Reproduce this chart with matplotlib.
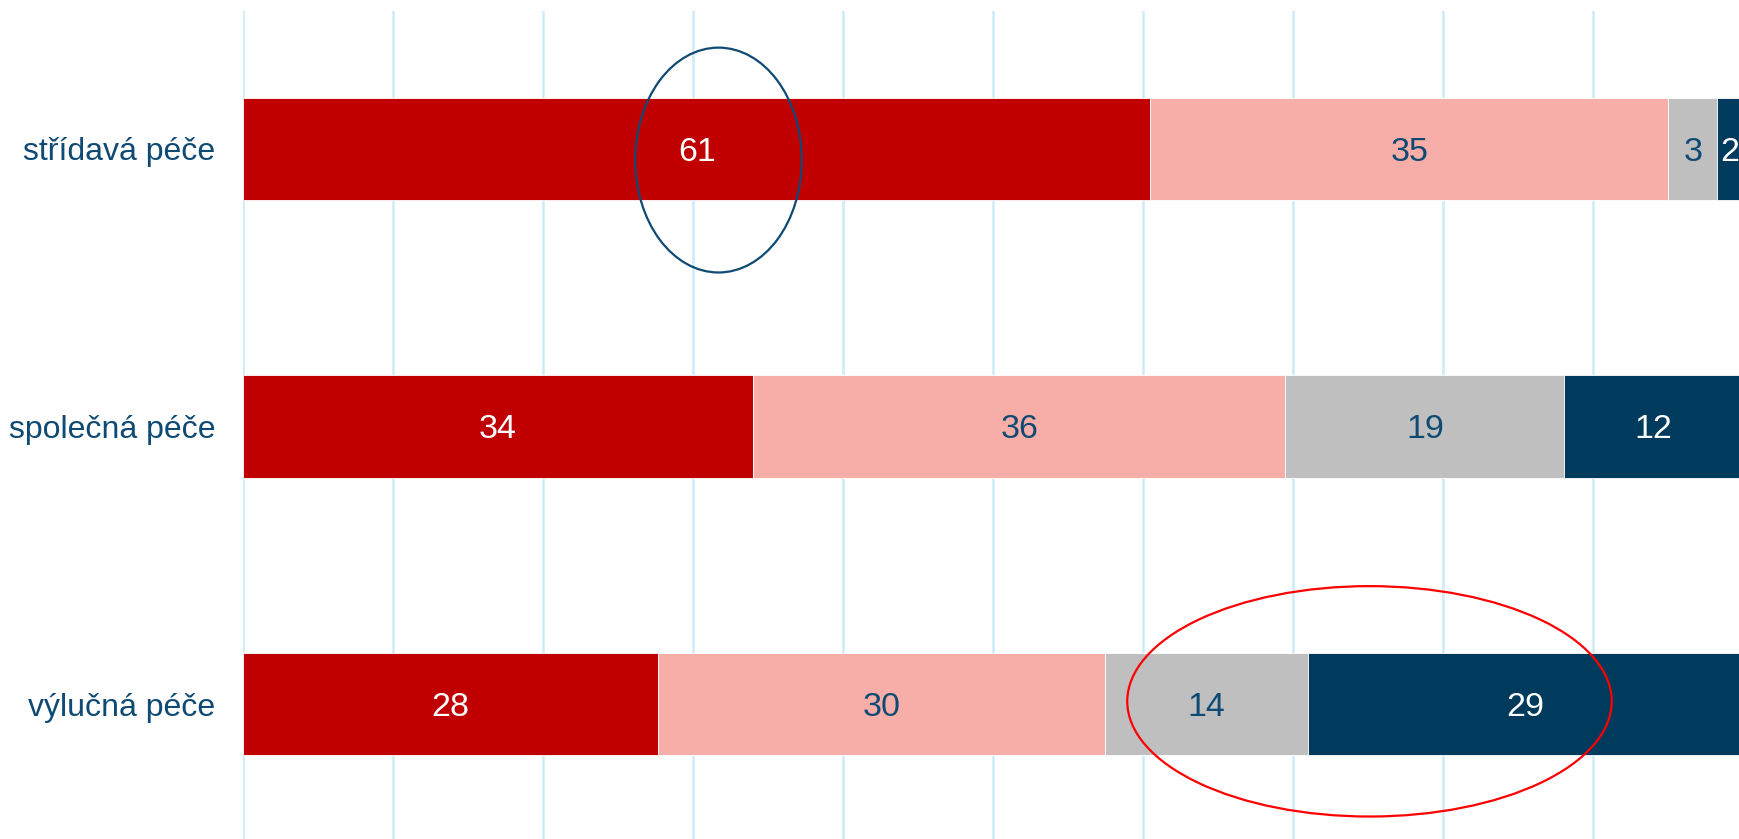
import matplotlib
matplotlib.use('Agg')
from matplotlib import pyplot as plt
from matplotlib.patches import Ellipse

plt.rcParams['font.family'] = ['Liberation Sans', 'DejaVu Sans']

categories: list[str] = ['střídavá péče', 'společná péče', 'výlučná péče']
red_share: list[float] = [60.5, 34.0, 27.7]
pink_share: list[float] = [34.5, 35.5, 29.8]
gray_share: list[float] = [3.3, 18.6, 13.5]
dark_share: list[float] = [1.7, 11.9, 29.0]

series = [red_share, pink_share, gray_share, dark_share]
fills = ['#C00000', '#F8AEA8', '#BFBFBF', '#003A5C']
text_colors = ['white', '#0E4A73', '#0E4A73', 'white']
label_color = '#0E4A73'

fig = plt.figure(figsize=(17.4, 8.39), dpi=100)
ax = fig.add_axes((243 / 1740, 0.0, 1500 / 1740, 1 - 11 / 839))

ypos = list(range(len(categories)))
left = [0.0] * len(categories)
for vals, fill, tcol in zip(series, fills, text_colors):
    ax.barh(ypos, vals, left=left, height=0.368, color=fill, edgecolor='white', linewidth=0.6, zorder=2)
    for y, v, l in zip(ypos, vals, left):
        # digits sit a touch lower than matplotlib's bbox centre
        ax.text(l + v / 2, y + 0.012, f'{int(v + 0.5)}', ha='center', va='center', fontsize=24.5,
                color=tcol, zorder=3)
    left = [a + b for a, b in zip(left, vals)]

# highlight ellipses
ax.add_patch(Ellipse((31.7, 0.04), 11.1, 0.81, fill=False, edgecolor='#0E4A73', linewidth=1.6, zorder=4))
ax.add_patch(Ellipse((75.1, 1.99), 32.3, 0.83, fill=False, edgecolor='#FF0000', linewidth=1.6, zorder=4))

ax.set_xlim(0, 100)
ax.set_ylim(2.486, -0.497)
ax.set_xticks(range(0, 101, 10))
ax.set_xticklabels([])
ax.grid(axis='x', color='#CDEAF9', linewidth=1.8, zorder=0)
ax.set_axisbelow(True)
ax.set_yticks(ypos)
ax.set_yticklabels(categories, fontsize=23, color=label_color)
ax.tick_params(axis='both', length=0)
ax.tick_params(axis='y', pad=20)
for s in ax.spines.values():
    s.set_visible(False)

fig.savefig('out.png', dpi=100)
